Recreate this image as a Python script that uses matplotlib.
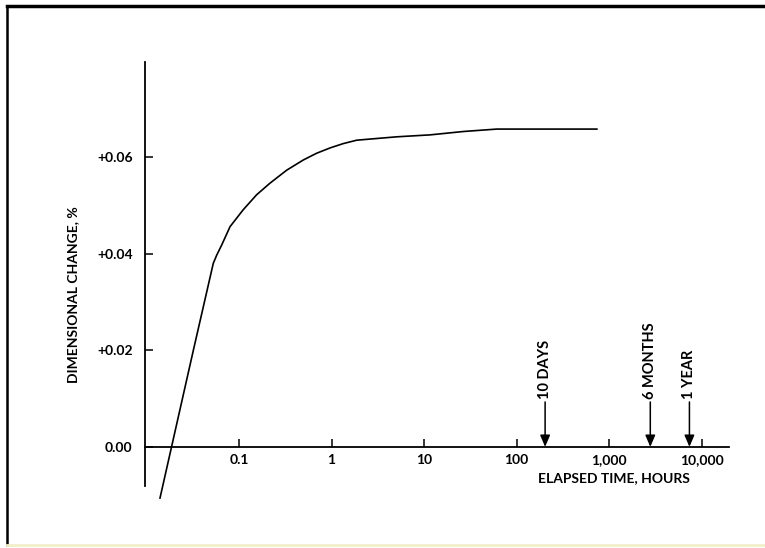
#!/usr/bin/env python3
"""Dimensional change vs elapsed time (log scale)"""

import matplotlib
matplotlib.use("Agg")
import matplotlib.pyplot as plt
from matplotlib.lines import Line2D

plt.rcParams["font.family"] = ["Lato", "DejaVu Sans"]

# curve
TIME_H = [0.014, 0.01866, 0.0321, 0.0527, 0.0574, 0.065, 0.080, 0.111, 0.155,
          0.216, 0.328, 0.495, 0.69, 0.964, 1.34, 1.87, 5.07, 11.6, 26.6, 61, 736]
CHANGE = [-0.0106, 0.0, 0.02, 0.038, 0.0397, 0.0418, 0.0456, 0.0491, 0.0522,
          0.0546, 0.0573, 0.0594, 0.0608, 0.0619, 0.0628, 0.0635, 0.0642,
          0.0646, 0.0653, 0.0658, 0.0658]

X_TICKS = [0.1, 1, 10, 100, 1000, 10000]
X_LABELS = ["0.1", "1", "10", "100", "1,000", "10,000"]
Y_TICKS = [0.0, 0.02, 0.04, 0.06]
Y_LABELS = ["0.00", "+0.02", "+0.04", "+0.06"]

MARK_NAMES = ["10 DAYS", "6 MONTHS", "1 YEAR"]
MARK_HOURS = [203, 2780, 7360]

W, H = 765, 548
fig = plt.figure(figsize=(W / 100, H / 100), dpi=100)
ax = fig.add_axes([145 / W, 48 / H, (729 - 145) / W, (487.5 - 48) / H])

ax.plot(TIME_H, CHANGE, color="black", lw=1.2, clip_on=False)

ax.set_xscale("log")
ax.set_xlim(0.00964, 19700)
ax.set_ylim(-0.011, 0.08)

for s in ("top", "right"):
    ax.spines[s].set_visible(False)
ax.spines["bottom"].set_position(("data", 0))
ax.spines["left"].set_bounds(-0.0082, 0.0796)
for s in ("bottom", "left"):
    ax.spines[s].set_linewidth(1.3)

ax.set_xticks(X_TICKS)
ax.set_xticklabels(X_LABELS)
ax.xaxis.set_minor_locator(plt.NullLocator())
ax.set_yticks(Y_TICKS)
ax.set_yticklabels(Y_LABELS)
ax.tick_params(axis="x", direction="in", length=5.5, width=1.1, pad=5, labelsize=10)
ax.tick_params(axis="y", direction="in", length=6, width=1.1, pad=9, labelsize=10)
for lab in ax.get_xticklabels() + ax.get_yticklabels():
    lab.set_fontweight("bold")

# time markers
for name, hrs in zip(MARK_NAMES, MARK_HOURS):
    ax.annotate("", xy=(hrs, 0), xytext=(hrs, 0.0093),
                arrowprops=dict(arrowstyle="-|>,head_length=0.7,head_width=0.3",
                                color="black", lw=1.1, shrinkA=0, shrinkB=0))
    ax.text(hrs, 0.0099, name, rotation=90, ha="center", va="bottom",
            fontsize=10.5, fontweight="bold")

fig.text(614 / W, 1 - 478 / H, "ELAPSED TIME, HOURS", ha="center", va="center",
         fontsize=10, fontweight="bold")
fig.text(73 / W, 1 - 295 / H, "DIMENSIONAL CHANGE, %", rotation=90,
         ha="center", va="center", fontsize=10, fontweight="bold")

# page frame
fig.add_artist(Line2D([7 / W, 1], [1 - 6 / H, 1 - 6 / H], color="black", lw=2.5))
fig.add_artist(Line2D([7 / W, 7 / W], [1 - 6 / H, 1 - 545 / H], color="black", lw=1.8))
fig.add_artist(Line2D([7 / W, 1], [1 - 545 / H, 1 - 545 / H], color="#f2f0c8", lw=2))

fig.savefig("out.png", dpi=100)
